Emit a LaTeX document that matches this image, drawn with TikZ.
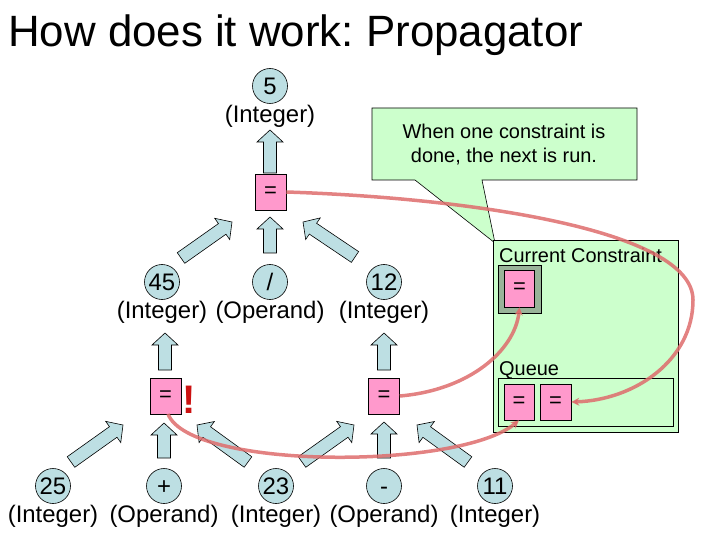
\documentclass[tikz,border=0pt]{standalone}
\usepackage{fontspec}
\setmainfont{Liberation Sans}
\usetikzlibrary{calc,arrows.meta}
\frenchspacing
\definecolor{nodeblue}{RGB}{189,223,227}
\definecolor{boxpink}{RGB}{255,153,204}
\definecolor{paleg}{RGB}{204,255,204}
\definecolor{darkg}{RGB}{153,179,153}
\definecolor{redline}{RGB}{222,108,108}
\definecolor{bang}{RGB}{204,17,17}
\newcommand\blockarrow[2]{%
  \coordinate (ba-h) at ($(#2)!12bp!(#1)$);
  \path[blk] ($(#1)!6.5bp!90:(#2)$) -- ($(ba-h)!6.5bp!90:(#2)$) -- ($(ba-h)!13bp!90:(#2)$) -- (#2)
    -- ($(ba-h)!13bp!-90:(#2)$) -- ($(ba-h)!6.5bp!-90:(#2)$) -- ($(#1)!6.5bp!-90:(#2)$) -- cycle;}
\begin{document}
\begin{tikzpicture}[x=1bp,y=-1bp,
  val/.style={circle, draw=black, line width=0.6bp, fill=nodeblue, minimum size=35bp, inner sep=0pt, text height=17bp, text depth=0bp, font=\fontsize{24}{28}\selectfont},
  lbl/.style={inner sep=0pt, font=\fontsize{24}{28}\selectfont},
  cons/.style={draw=black, line width=0.6bp, fill=boxpink, minimum width=31bp, minimum height=36bp, inner sep=0pt, font=\fontsize{22}{26}\selectfont},
  blk/.style={draw=black, line width=0.6bp, fill=nodeblue, line join=miter},
  flow/.style={draw=redline, line width=3.5bp, opacity=0.85, -{Stealth[length=8bp,width=8bp]}},
  small/.style={inner sep=0pt, font=\fontsize{20}{24}\selectfont},
  panelbox/.style={draw=black, line width=0.6bp}
]
\useasboundingbox (0,0) rectangle (720,540);

% title
\node[anchor=base west, inner sep=0pt, font=\fontsize{44}{50}\selectfont] (title) at (8,47) {How does it work: Propagator};

% callout
\draw[panelbox, fill=paleg] (372,108) -- (637,108) -- (637,180) -- (482,180) -- (495,243) -- (415,180) -- (372,180) -- cycle;
\node[small, align=center] (note) at (504,145) {When one constraint is\\done, the next is run.};

% panel
\node[panelbox, fill=paleg, minimum width=185bp, minimum height=192bp, anchor=north west, inner sep=0pt] (panel) at (493,240) {};
\node[small, anchor=base west] (curlbl) at (499,263) {Current Constraint};
\node[panelbox, fill=darkg, minimum width=43bp, minimum height=48bp, inner sep=0pt] (curframe) at (519.5,289) {};
\node[cons, minimum width=30bp, minimum height=37bp] (cur) at (519.5,288.5) {=};
\node[small, anchor=base west] (qlbl) at (499,375) {Queue};
\node[panelbox, minimum width=175bp, minimum height=48bp, anchor=north west, inner sep=0pt] (queue) at (498,378) {};
\node[cons, minimum width=30bp] (q1) at (519,402) {=};
\node[cons] (q2) at (555.5,402) {=};

% value nodes
\node[val] (v5) at (270,86) {5};
\node[lbl] (l5) at (270,116) {(Integer)};
\node[val] (v45) at (162,282) {45};
\node[lbl] (l45) at (162,312) {(Integer)};
\node[val] (vdiv) at (270,282) {/};
\node[lbl] (ldiv) at (270,312) {(Operand)};
\node[val] (v12) at (384,282) {12};
\node[lbl] (l12) at (384,312) {(Integer)};
\node[val] (v25) at (53,486) {25};
\node[lbl] (l25) at (53,516) {(Integer)};
\node[val] (vplus) at (164,486) {+};
\node[lbl] (lplus) at (164,516) {(Operand)};
\node[val] (v23) at (276,486) {23};
\node[lbl] (l23) at (276,516) {(Integer)};
\node[val] (vminus) at (384,486) {-};
\node[lbl] (lminus) at (384,516) {(Operand)};
\node[val] (v11) at (495,486) {11};
\node[lbl] (l11) at (495,516) {(Integer)};

% constraint boxes
\node[cons] (ctop) at (270.5,192) {=};
\node[cons] (cl) at (165.5,396) {=};
\node[cons] (cr) at (384,396) {=};
\node[anchor=base west, inner sep=0pt, text=bang, font=\fontsize{40}{44}\selectfont\bfseries] (bang) at (182,413) {!};

% block arrow end points
\coordinate (a1t) at (270,173); \coordinate (a1h) at (270,130);
\coordinate (a2t) at (181,258); \coordinate (a2h) at (232,222);
\coordinate (a3t) at (270,253); \coordinate (a3h) at (270,217);
\coordinate (a4t) at (355,257); \coordinate (a4h) at (303,222);
\coordinate (a5t) at (165,370); \coordinate (a5h) at (165,333);
\coordinate (a6t) at (384,370); \coordinate (a6h) at (384,333);
\coordinate (a7t) at (71,462);  \coordinate (a7h) at (123,425);
\coordinate (a8t) at (164,458); \coordinate (a8h) at (164,423);
\coordinate (a9t) at (248,462); \coordinate (a9h) at (197,425);
\coordinate (a10t) at (302,462); \coordinate (a10h) at (354,425);
\coordinate (a11t) at (384,458); \coordinate (a11h) at (384,422);
\coordinate (a12t) at (468,462); \coordinate (a12h) at (417,425);
\blockarrow{a1t}{a1h}
\blockarrow{a2t}{a2h}
\blockarrow{a3t}{a3h}
\blockarrow{a4t}{a4h}
\blockarrow{a5t}{a5h}
\blockarrow{a6t}{a6h}
\blockarrow{a7t}{a7h}
\blockarrow{a8t}{a8h}
\blockarrow{a9t}{a9h}
\blockarrow{a10t}{a10h}
\blockarrow{a11t}{a11h}
\blockarrow{a12t}{a12h}

% red flow curves
\draw[flow] (ctop.east) .. controls (470,198) and (693,230) .. (693,300) .. controls (693,360) and (635,400) .. (q2.east);
\draw[flow] (cr.east) .. controls (470,390) and (515,350) .. (cur.south);
\coordinate (clfoot) at (168,414);
\draw[flow] (clfoot) .. controls (190,470) and (460,470) .. (q1.south);
\end{tikzpicture}
\end{document}
